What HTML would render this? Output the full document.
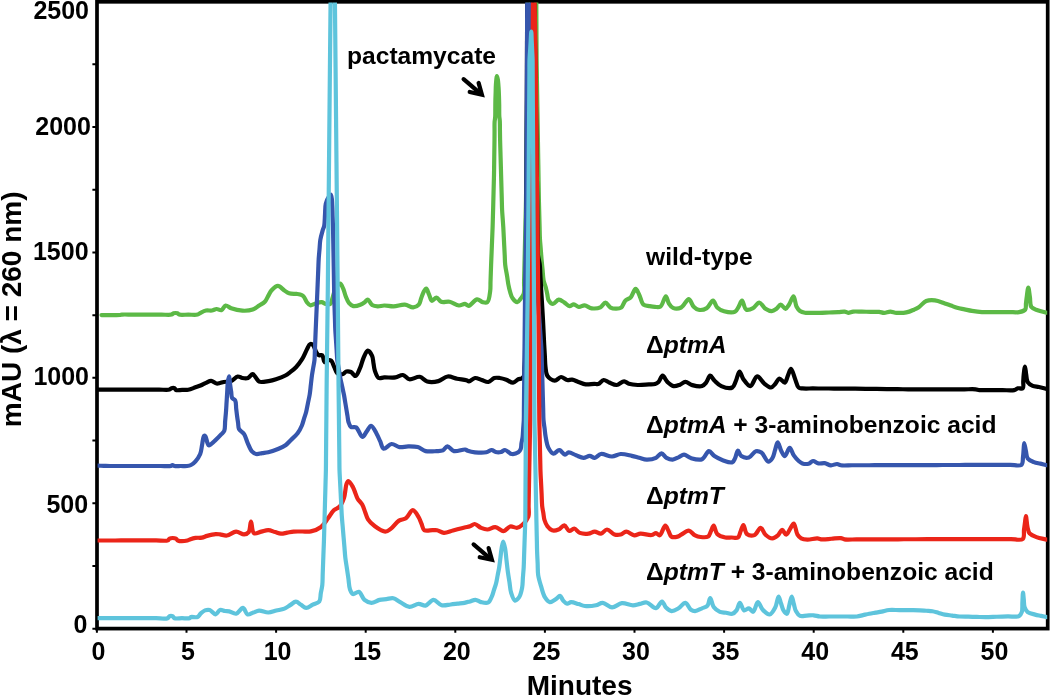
<!DOCTYPE html>
<html><head><meta charset="utf-8"><title>HPLC chromatogram</title><style>html,body{margin:0;padding:0;background:#fff;}svg{display:block;}</style></head><body>
<svg width="1050" height="696" viewBox="0 0 1050 696" font-family='"Liberation Sans", Arial, sans-serif' font-weight="bold">
<rect width="1050" height="696" fill="#fff"/>
<defs><clipPath id="pc"><rect x="97.6" y="2.6" width="949.6" height="624.5"/></clipPath></defs>
<path d="M92.4,628.70H96M92.4,565.99H96M92.4,503.28H96M92.4,440.56H96M92.4,377.85H96M92.4,315.14H96M92.4,252.43H96M92.4,189.71H96M92.4,127.00H96M92.4,64.29H96" stroke="#000" stroke-width="2" fill="none"/>
<path d="M96.90,629V632.8M186.50,629V632.8M276.10,629V632.8M365.70,629V632.8M455.30,629V632.8M544.90,629V632.8M634.50,629V632.8M724.10,629V632.8M813.70,629V632.8M903.30,629V632.8M992.90,629V632.8" stroke="#000" stroke-width="2" fill="none"/>
<rect x="97" y="1.8" width="950.7" height="626.8" fill="none" stroke="#000" stroke-width="3.7"/>
<text x="89.0" y="18.7" font-size="25" text-anchor="end">2500</text>
<text x="90.9" y="134.6" font-size="25" text-anchor="end">2000</text>
<text x="88.6" y="260.3" font-size="25" text-anchor="end">1500</text>
<text x="89.0" y="384.5" font-size="25" text-anchor="end">1000</text>
<text x="88.2" y="512.9" font-size="25" text-anchor="end">500</text>
<text x="87.4" y="633.4" font-size="25" text-anchor="end">0</text>
<text x="98.40" y="659.8" font-size="25" text-anchor="middle">0</text>
<text x="188.00" y="659.8" font-size="25" text-anchor="middle">5</text>
<text x="277.60" y="659.8" font-size="25" text-anchor="middle">10</text>
<text x="367.20" y="659.8" font-size="25" text-anchor="middle">15</text>
<text x="456.80" y="659.8" font-size="25" text-anchor="middle">20</text>
<text x="546.40" y="659.8" font-size="25" text-anchor="middle">25</text>
<text x="636.00" y="659.8" font-size="25" text-anchor="middle">30</text>
<text x="725.60" y="659.8" font-size="25" text-anchor="middle">35</text>
<text x="815.20" y="659.8" font-size="25" text-anchor="middle">40</text>
<text x="904.80" y="659.8" font-size="25" text-anchor="middle">45</text>
<text x="994.40" y="659.8" font-size="25" text-anchor="middle">50</text>
<text x="579.6" y="695.0" font-size="28" text-anchor="middle">Minutes</text>
<text transform="translate(20.9,427.2) rotate(-90)" x="0" y="0" font-size="28">mAU (λ = 260 nm)</text>
<g clip-path="url(#pc)" fill="none" stroke-width="4.20" stroke-linejoin="round" stroke-linecap="round">
<path stroke="#5cb946" d="M101.5,315.1C104.58,315.08 107.67,315.07 110.75,315.05C113.83,315.03 118.05,315.2 120,315C120.92,314.91 121.07,314.69 122,314.6C124.04,314.4 128.6,314.6 131.9,314.6C135.2,314.6 138.5,314.6 141.8,314.6C145.1,314.6 148.4,314.6 151.7,314.6C155,314.6 158.3,314.6 161.6,314.6C164.9,314.6 169.5,315.19 171.5,314.6C172.48,314.31 172.68,313.54 173.5,313.3C174.57,312.98 176.49,312.96 177.5,313.3C178.24,313.55 178.34,314.31 179.2,314.6C180.98,315.2 185.3,314.6 188.35,314.6C191.4,314.6 195.34,315.2 197.5,314.6C198.84,314.23 199.32,313.39 200.5,312.8C202.03,312.02 204.09,310.88 206,310.5C207.9,310.12 210.07,310.79 211.9,310.5C213.58,310.24 215.02,309.05 216.6,309C218.18,308.95 219.97,310.64 221.4,310.2C223.02,309.7 223.96,305.81 225.6,305.5C227.23,305.19 228.95,307.51 231.2,308.3C234.24,309.37 238.73,310.51 242.4,310.7C245.89,310.88 249.76,310.62 252.7,309.6C255.23,308.72 257.12,306.84 259.2,305.5C261.14,304.25 263.31,303.37 264.8,301.8C266.27,300.25 267,298.03 268.1,296.15C269.2,294.27 269.89,292.15 271.4,290.5C273.07,288.68 275.73,285.9 277.9,285.9C280.07,285.9 282.38,289.19 284.4,290.5C286.07,291.59 287.27,292.72 289.1,293.3C291.24,293.98 294.59,293.64 296.6,293.9C297.96,294.07 298.89,294.13 300,294.5C301.16,294.88 302.38,295.25 303.4,296.2C304.78,297.49 305.61,300.6 306.9,302.2C307.95,303.5 308.95,305.02 310.3,305.3C311.78,305.6 313.68,304.01 315.5,303.5C317.44,302.96 319.77,302.03 321.6,302.2C323.18,302.35 324.44,303.71 325.9,304C327.31,304.28 329.15,304.71 330.2,304C331.4,303.19 331.58,300.81 332.3,298.8C333.26,296.12 333.84,291.93 335.3,289.3C336.56,287.04 338.74,283.6 340.1,283.7C341.28,283.78 342.23,286.57 343.1,288.4C344.16,290.62 344.68,293.71 345.7,296.2C346.69,298.61 347.64,301.4 349.1,303.1C350.31,304.51 351.71,305.74 353.4,306.1C355.36,306.52 358.31,305.55 360.3,304.8C361.99,304.16 363.4,303.14 364.7,302.2C365.87,301.36 366.74,299.39 367.8,299.5C369.19,299.64 370.33,303.96 372.1,305.1C373.69,306.13 375.76,306.31 377.7,306.4C379.78,306.49 381.83,305.55 384.2,305.5C387.04,305.44 390.34,306.5 393.6,306.4C397.18,306.29 401.37,304.32 404.8,304.6C407.83,304.85 410.72,307.58 413.2,307.4C415.29,307.25 417.49,306.06 418.8,304.6C420.14,303.11 420.33,300.53 421.1,298.5C421.87,296.47 422.45,294.12 423.4,292.4C424.2,290.95 425.33,288.62 426.2,288.7C427.21,288.79 428.08,292.35 429,294.3C429.98,296.38 430.53,300.42 431.9,300.8C433.12,301.14 434.99,297.51 436.5,297.6C438.1,297.7 439.23,301.05 441.2,301.8C443.47,302.67 446.78,301.26 449.6,301.8C452.68,302.39 456.1,305.33 458.9,305.5C461.12,305.64 463.25,303.71 465,303.9C466.42,304.06 467.27,305.93 468.7,305.8C470.99,305.59 474.51,299.55 477.1,299.3C479.09,299.11 480.86,301.67 482.7,302.1C484.29,302.48 486.21,303.03 487.4,302.1C489.26,300.65 489.7,294.43 490.2,290.9C490.63,287.83 490.4,285.08 490.5,282.17C490.6,279.26 490.7,276.34 490.8,273.43C490.9,270.52 490.99,267.66 491.1,264.7C491.21,261.64 491.35,258.48 491.48,255.38C491.6,252.27 491.73,249.16 491.85,246.05C491.98,242.94 492.1,239.83 492.23,236.72C492.35,233.62 492.49,230.45 492.6,227.4C492.7,224.45 492.77,221.6 492.85,218.7C492.93,215.8 493.02,213.11 493.1,210C493.2,206.4 493.3,202.22 493.4,198.33C493.5,194.44 493.6,190.56 493.7,186.67C493.8,182.78 493.92,178.89 494,175C494.08,171.11 494.11,167.22 494.17,163.33C494.22,159.44 494.28,155.56 494.33,151.67C494.39,147.78 494.46,143.64 494.5,140C494.53,136.81 494.53,134 494.55,131C494.57,128 494.44,124.56 494.6,122C494.72,120.09 495.08,118.89 495.2,117C495.36,114.54 495.27,111.33 495.3,108.5C495.33,105.67 495.34,102.74 495.4,100C495.46,97.42 495.57,95 495.65,92.5C495.73,90 495.71,87.6 495.9,85C496.11,82.18 496.47,76.23 496.9,76.2C497.16,76.18 497.55,78.13 497.8,79.5C498.19,81.66 498.4,85.12 498.6,88C498.8,90.95 498.9,94.09 499,97C499.1,99.74 499.15,102.12 499.2,105C499.26,108.38 499.14,113.05 499.3,116C499.41,117.99 499.69,119.07 499.8,121C499.95,123.66 499.9,127.33 499.95,130.5C500,133.67 500.03,136.67 500.1,140C500.18,143.69 500.32,147.78 500.43,151.67C500.54,155.56 500.66,159.44 500.77,163.33C500.88,167.22 500.99,171.11 501.1,175C501.21,178.89 501.32,182.78 501.43,186.67C501.54,190.56 501.66,194.44 501.77,198.33C501.88,202.22 501.92,206.4 502.1,210C502.25,213.11 502.5,215.8 502.7,218.7C502.9,221.6 503.12,224.45 503.3,227.4C503.48,230.45 503.62,233.62 503.77,236.72C503.93,239.83 504.09,242.94 504.25,246.05C504.41,249.16 504.57,252.27 504.73,255.38C504.88,258.48 504.85,261.46 505.2,264.7C505.58,268.27 506.43,272.17 507.05,275.9C507.67,279.63 507.99,283.4 508.9,287.1C509.83,290.87 510.81,295.71 512.6,298.3C513.88,300.15 515.86,302.19 517.3,302.1C518.65,302.02 519.92,299.69 521,298.3C522.09,296.9 523.22,295.68 523.8,293.7C524.66,290.77 523.98,285.89 524.07,281.99C524.17,278.08 524.26,274.18 524.35,270.27C524.44,266.37 524.53,262.47 524.62,258.56C524.72,254.66 524.81,250.75 524.9,246.85C524.99,242.95 525.08,239.04 525.17,235.14C525.27,231.23 525.36,227.33 525.45,223.43C525.54,219.52 525.63,215.62 525.73,211.71C525.82,207.81 525.93,203.9 526,200C526.07,196.11 526.08,192.22 526.12,188.33C526.17,184.44 526.21,180.56 526.25,176.67C526.29,172.78 526.33,168.89 526.38,165C526.42,161.11 526.46,157.22 526.5,153.33C526.54,149.44 526.58,145.56 526.62,141.67C526.67,137.78 526.71,133.89 526.75,130C526.79,126.11 526.83,122.22 526.88,118.33C526.92,114.44 526.96,110.56 527,106.67C527.04,102.78 527.08,98.89 527.12,95C527.17,91.11 527.21,87.22 527.25,83.33C527.29,79.44 527.33,75.56 527.38,71.67C527.42,67.78 527.46,63.74 527.5,60C527.53,56.54 527.56,53.33 527.58,50C527.61,46.67 527.64,43.33 527.67,40C527.69,36.67 527.72,33.33 527.75,30C527.78,26.67 527.81,23.33 527.83,20C527.86,16.67 527.89,13.33 527.92,10C527.94,6.67 527.98,3.42 528,0C528.02,-3.61 528.04,-7.41 528.06,-11.11C528.07,-14.81 528.09,-18.52 528.11,-22.22C528.13,-25.93 528.15,-29.63 528.17,-33.33C528.19,-37.04 528.2,-40.74 528.22,-44.44C528.24,-48.15 528.26,-51.85 528.28,-55.56C528.3,-59.26 528.31,-62.96 528.33,-66.67C528.35,-70.37 528.37,-74.07 528.39,-77.78C528.41,-81.48 528.43,-85.19 528.44,-88.89C528.46,-92.59 526.89,-98.39 528.5,-100C529.73,-101.23 533.75,-101.24 535,-100C536.66,-98.36 535.09,-92.38 535.13,-88.57C535.17,-84.76 535.21,-80.95 535.26,-77.14C535.3,-73.33 535.34,-69.52 535.39,-65.71C535.43,-61.9 535.47,-58.1 535.51,-54.29C535.56,-50.48 535.6,-46.67 535.64,-42.86C535.69,-39.05 535.73,-35.24 535.77,-31.43C535.81,-27.62 535.85,-23.82 535.9,-20C535.95,-16.17 536.03,-12.33 536.1,-8.5C536.17,-4.67 536.26,-0.83 536.3,3C536.34,6.81 536.34,10.6 536.36,14.4C536.38,18.2 536.4,22 536.42,25.8C536.44,29.6 536.46,33.4 536.48,37.2C536.5,41 536.52,44.8 536.54,48.6C536.56,52.4 536.56,56.18 536.6,60C536.64,63.87 536.73,67.78 536.79,71.67C536.86,75.56 536.92,79.44 536.98,83.33C537.05,87.22 537.11,91.11 537.17,95C537.24,98.89 537.3,102.78 537.37,106.67C537.43,110.56 537.49,114.44 537.56,118.33C537.62,122.22 537.69,126.11 537.75,130C537.81,133.89 537.88,137.78 537.94,141.67C538.01,145.56 538.07,149.44 538.13,153.33C538.2,157.22 538.26,161.11 538.33,165C538.39,168.89 538.45,172.78 538.52,176.67C538.58,180.56 538.64,184.44 538.71,188.33C538.77,192.22 538.82,196.31 538.9,200C538.97,203.33 539.07,206.33 539.15,209.5C539.23,212.67 539.32,215.83 539.4,219C539.48,222.17 539.57,225.33 539.65,228.5C539.73,231.67 539.73,234.77 539.9,238C540.07,241.38 540.43,244.9 540.7,248.35C540.97,251.8 541.2,255.21 541.5,258.7C541.81,262.26 542.2,265.9 542.55,269.5C542.9,273.1 542.96,277.09 543.6,280.3C544.13,282.97 545.18,285.15 545.8,287.5C546.38,289.7 546.77,291.8 547.25,293.95C547.73,296.1 547.66,298.69 548.7,300.4C549.66,301.97 551.45,303.96 553,304C554.75,304.04 556.73,299.88 558.7,299.7C560.57,299.53 562.68,301.51 564.5,302.6C566.27,303.65 567.84,305.91 569.5,306.1C570.94,306.27 572.32,304.34 573.8,304.4C575.44,304.47 577.12,306.72 578.9,306.9C580.72,307.08 582.61,305.27 584.6,305.4C586.88,305.54 589.25,307.96 591.8,308.3C594.5,308.66 598.06,308.39 600.4,307.3C602.48,306.33 603.73,302.58 605.4,302.6C607.1,302.62 608.59,306.6 610.5,307.6C612.23,308.51 614.36,308.72 616.2,308.7C617.92,308.68 619.77,308.63 621.2,307.6C623.03,306.28 623.74,302.12 625.5,300.4C626.97,298.96 629.08,299 630.6,297.5C632.58,295.54 634.05,288.92 635.6,288.9C636.88,288.88 638.03,292.45 639.2,294.7C640.68,297.54 641.39,302.92 643.5,304.7C645.06,306.02 647.37,305.73 649.3,306.1C651.2,306.46 653.11,306.84 655,306.9C656.85,306.96 658.91,307.54 660.5,306.5C662.78,305.01 664.33,296.35 665.8,296.4C666.99,296.44 667.52,301.32 668.8,303.3C669.97,305.1 671.14,307.13 673,307.9C675.13,308.78 678.73,308.66 681.2,307.5C684.09,306.14 686.64,299.02 688.8,299.2C690.73,299.36 691.85,304.98 693.7,306.8C695.16,308.24 696.6,309.46 698.5,309.8C700.82,310.22 704.44,309.52 706.8,308.1C709.33,306.58 711.21,300.47 713,300.6C714.63,300.72 715.33,305.73 717.2,307.5C719.04,309.24 721.44,310.48 724.1,311.2C727.26,312.05 732.63,312.8 735.1,311.6C736.91,310.72 737.49,308.54 738.6,306.8C739.81,304.9 740.84,300.56 742,300.6C743.37,300.64 744.09,308.44 746.2,309.5C747.99,310.4 750.99,309.15 753.1,308.1C755.39,306.96 757.26,302.54 759.3,302.6C761.4,302.66 763.27,307.35 765.5,308.8C767.44,310.07 769.78,311.29 771.7,311.2C773.42,311.12 775.03,309.85 776.5,308.8C778.04,307.7 779.23,304.75 780.7,304.7C782.22,304.65 784.08,308.91 785.5,308.8C786.82,308.7 787.85,306.38 789,304.7C790.53,302.48 792.26,296.27 793.5,296.4C794.83,296.54 795.23,304.2 796.6,306.8C797.57,308.63 798.6,310 800,311C801.38,311.98 803.06,312.47 804.9,312.8C807.09,313.19 809.87,312.8 812.35,312.8C814.83,312.8 817.18,312.84 819.8,312.8C822.72,312.75 825.97,312.6 829.05,312.5C832.13,312.4 835.53,312.38 838.3,312.2C840.58,312.05 842.72,311.41 844.5,311.6C845.91,311.75 846.87,312.75 848.2,312.8C849.73,312.86 851.29,311.81 853.2,311.6C855.68,311.32 858.98,311.67 861.87,311.7C864.76,311.73 867.64,311.77 870.53,311.8C873.42,311.83 876.73,311.66 879.2,311.9C881.07,312.08 882.37,312.81 884.1,312.8C886.05,312.79 888.23,311.6 890.3,311.6C892.37,311.6 894.18,312.62 896.5,312.8C899.4,313.02 903.37,312.99 906.4,312.4C909.12,311.87 911.69,310.66 913.9,309.7C915.73,308.91 917.07,308.35 918.8,307.2C921.09,305.68 923.43,302.13 926.2,301C928.83,299.92 931.94,299.97 934.9,300.3C938.13,300.66 941.9,302.43 944.8,303.4C947.1,304.17 948.9,304.87 950.95,305.6C953,306.33 954.93,307.19 957.1,307.8C959.44,308.46 962.07,308.83 964.55,309.35C967.03,309.87 969.33,310.46 972,310.9C975.06,311.4 978.65,311.9 981.9,312.1C985.04,312.29 988.08,312.1 991.17,312.1C994.27,312.1 997.36,312.1 1000.45,312.1C1003.54,312.1 1006.63,312.1 1009.73,312.1C1012.82,312.1 1016.26,312.63 1019,312.1C1021.32,311.65 1024.05,311.1 1025.2,309.6C1026.31,308.15 1025.7,305.47 1025.95,303.4C1026.2,301.33 1026.37,299.49 1026.7,297.2C1027.11,294.32 1027.77,287.5 1028.3,287.5C1028.83,287.5 1029.39,293.95 1029.9,297.2C1030.42,300.48 1029.82,304.92 1031.4,307.1C1032.72,308.91 1035.27,309.32 1037.6,310.2C1040.36,311.25 1043.87,311.87 1047,312.7"/>
<path stroke="#000000" d="M97.5,389.6C100.93,389.6 104.36,389.6 107.79,389.6C111.21,389.6 114.64,389.6 118.07,389.6C121.5,389.6 124.93,389.6 128.36,389.6C131.79,389.6 135.21,389.6 138.64,389.6C142.07,389.6 145.5,389.6 148.93,389.6C152.36,389.6 155.79,389.6 159.21,389.6C162.64,389.6 167.46,390.24 169.5,389.6C170.5,389.29 170.72,388.45 171.5,388.2C172.36,387.93 173.73,387.84 174.5,388.2C175.18,388.52 175.21,389.64 176,390C177.28,390.58 180.07,389.93 182.1,389.9C184.13,389.87 186.11,390.17 188.2,389.8C190.56,389.39 193.3,388.07 195.5,387.3C197.33,386.66 198.81,386.21 200.5,385.5C202.31,384.73 204.18,383.6 206,382.8C207.72,382.04 209.38,380.73 211.1,380.8C212.92,380.88 214.95,383.24 216.6,383.5C217.84,383.69 218.85,383.24 220,383C221.21,382.75 222.24,382.28 223.7,382C225.75,381.6 228.89,381.99 231.2,381.1C233.57,380.19 235.63,376.82 237.7,376.5C239.33,376.25 240.74,377.74 242.4,378C244.16,378.27 246.31,378.6 248,378C249.76,377.38 251.27,374.09 252.7,374.2C254.06,374.31 255.27,376.98 256.4,378.3C257.41,379.47 257.78,381.08 259.2,381.7C261.28,382.6 265.67,381.55 268.6,381.1C271.23,380.7 273.42,380.13 276,379.3C278.98,378.34 282.88,376.86 285.4,375.5C287.27,374.49 288.4,373.53 290,372.3C291.9,370.84 294.09,369.21 296,367.2C298.15,364.93 300.29,362.12 302.1,359.2C304.02,356.11 305.59,351.86 307.1,349.1C308.18,347.12 308.89,344.55 310.1,344.1C310.99,343.77 312.23,344.31 313.1,345.1C314.45,346.33 315.1,350.29 316.2,352.1C317,353.41 317.65,354.7 318.7,355.2C319.68,355.67 321.28,354.55 322.2,355.2C323.55,356.15 323.43,361.73 324.7,362.2C325.63,362.54 327.04,360.41 328.2,360.2C329.21,360.02 330.33,360.04 331.2,360.7C332.54,361.71 333.27,365.07 334.3,367.2C335.3,369.27 335.8,372.15 337.3,373.3C338.6,374.3 340.79,374.62 342.3,374.3C343.78,373.99 344.84,371.88 346.3,371.5C347.74,371.13 349.54,371.36 351,372C352.64,372.73 354.12,376.22 355.5,376C357.18,375.73 358.71,371.04 360,368.2C361.41,365.09 362.09,361.05 363.5,358C364.75,355.29 366.28,350.82 367.8,350.7C369.16,350.59 371.15,353.87 372.1,355.9C373.11,358.06 373.03,360.9 373.5,363.4C373.97,365.9 374.07,368.49 374.9,370.9C375.75,373.36 376.83,377.05 378.6,378C380.09,378.8 382.01,377.52 384.2,377.4C387.29,377.23 392.08,377.92 395.4,377.4C398.19,376.96 400.56,374.68 402.9,375C405.23,375.32 406.87,378.86 409.4,379.3C412.35,379.82 416.63,376.3 419.7,376.8C422.5,377.25 424.32,380.73 427.2,381.5C430.45,382.37 434.93,381.98 438.4,381.1C441.74,380.26 444.52,376.87 447.7,376.5C450.76,376.15 453.96,378.08 457.1,378.7C460.2,379.31 464.28,379.59 466.4,380.2C467.56,380.53 467.97,381.35 469,381.3C470.6,381.22 472.9,378.22 475,378C477.13,377.77 479.48,379.33 481.7,380C483.91,380.66 486.22,382.31 488.3,382C490.43,381.69 492.26,378.62 494.3,378C496.07,377.46 497.83,377.76 499.7,378C501.81,378.27 504.12,378.94 506.3,379.7C508.56,380.49 510.94,382.85 513,382.7C514.91,382.56 516.7,379.99 518.3,379.3C519.46,378.8 520.57,379.04 521.5,378.5C522.45,377.95 523.37,377.2 523.9,376C524.7,374.18 524.23,370.67 524.4,368C524.57,365.33 524.79,362.82 524.9,360C525.02,356.85 525.01,353.33 525.07,350C525.12,346.67 525.18,343.33 525.23,340C525.29,336.67 525.34,333.33 525.4,330C525.46,326.67 525.51,323.33 525.57,320C525.62,316.67 525.68,313.33 525.73,310C525.79,306.67 525.86,303.47 525.9,300C525.94,296.24 525.94,292.16 525.95,288.24C525.97,284.31 525.99,280.39 526.01,276.47C526.02,272.55 526.04,268.63 526.06,264.71C526.08,260.78 526.09,256.86 526.11,252.94C526.13,249.02 526.15,245.1 526.16,241.18C526.18,237.25 526.2,233.33 526.22,229.41C526.24,225.49 526.25,221.57 526.27,217.65C526.29,213.73 526.31,209.8 526.32,205.88C526.34,201.96 526.36,198.04 526.38,194.12C526.39,190.2 526.41,186.27 526.43,182.35C526.45,178.43 526.46,174.51 526.48,170.59C526.5,166.67 526.52,162.75 526.54,158.82C526.55,154.9 526.57,150.98 526.59,147.06C526.61,143.14 526.62,139.22 526.64,135.29C526.66,131.37 526.68,127.45 526.69,123.53C526.71,119.61 526.73,115.69 526.75,111.76C526.76,107.84 526.78,103.87 526.8,100C526.82,96.24 526.83,92.59 526.84,88.89C526.86,85.19 526.87,81.48 526.89,77.78C526.9,74.07 526.92,70.37 526.93,66.67C526.95,62.96 526.96,59.26 526.98,55.56C526.99,51.85 527.01,48.15 527.02,44.44C527.04,40.74 527.05,37.04 527.07,33.33C527.08,29.63 527.1,25.93 527.11,22.22C527.13,18.52 527.14,14.81 527.16,11.11C527.17,7.41 527.19,3.7 527.2,0C527.21,-3.7 527.23,-7.41 527.24,-11.11C527.26,-14.81 527.27,-18.52 527.29,-22.22C527.3,-25.93 527.32,-29.63 527.33,-33.33C527.35,-37.04 527.36,-40.74 527.38,-44.44C527.39,-48.15 527.41,-51.85 527.42,-55.56C527.44,-59.26 527.45,-62.96 527.47,-66.67C527.48,-70.37 527.5,-74.07 527.51,-77.78C527.53,-81.48 527.54,-85.19 527.56,-88.89C527.57,-92.59 526.12,-98.52 527.6,-100C528.59,-100.98 531.5,-100.99 532.5,-100C534.03,-98.49 532.62,-92.38 532.69,-88.57C532.75,-84.76 532.81,-80.95 532.87,-77.14C532.93,-73.33 533,-69.52 533.06,-65.71C533.12,-61.9 533.18,-58.1 533.24,-54.29C533.3,-50.48 533.37,-46.67 533.43,-42.86C533.49,-39.05 533.55,-35.24 533.61,-31.43C533.68,-27.62 533.73,-23.82 533.8,-20C533.87,-16.17 533.97,-12.33 534.05,-8.5C534.13,-4.67 534.22,-0.83 534.3,3C534.37,6.81 534.43,10.6 534.5,14.4C534.57,18.2 534.63,22 534.7,25.8C534.77,29.6 534.83,33.4 534.9,37.2C534.97,41 535.03,44.8 535.1,48.6C535.17,52.4 535.24,56.18 535.3,60C535.36,63.87 535.41,67.78 535.46,71.67C535.51,75.56 535.56,79.44 535.62,83.33C535.67,87.22 535.72,91.11 535.77,95C535.83,98.89 535.88,102.78 535.93,106.67C535.99,110.56 536.04,114.44 536.09,118.33C536.14,122.22 536.2,126.11 536.25,130C536.3,133.89 536.36,137.78 536.41,141.67C536.46,145.56 536.51,149.44 536.57,153.33C536.62,157.22 536.67,161.11 536.73,165C536.78,168.89 536.83,172.78 536.88,176.67C536.94,180.56 536.99,184.44 537.04,188.33C537.09,192.22 537.15,196.19 537.2,200C537.25,203.67 537.28,207.2 537.32,210.8C537.36,214.4 537.4,218 537.44,221.6C537.48,225.2 537.52,228.8 537.56,232.4C537.6,236 537.64,239.6 537.68,243.2C537.72,246.8 537.46,250.4 537.8,254C538.15,257.66 539.39,261.58 539.8,265C540.15,267.96 540.11,270.56 540.27,273.33C540.42,276.11 540.58,278.89 540.73,281.67C540.89,284.44 541.03,287.1 541.2,290C541.38,293.18 541.6,296.67 541.8,300C542,303.33 542.2,306.67 542.4,310C542.6,313.33 542.83,316.82 543,320C543.16,322.89 543.27,325.51 543.4,328.27C543.53,331.02 543.67,333.78 543.8,336.53C543.93,339.29 544.04,341.84 544.2,344.8C544.38,348.23 544.63,352.2 544.85,355.9C545.07,359.6 545.04,363.54 545.5,367C545.91,370.09 545.76,373.42 547.3,375.7C548.85,378 552.4,380.64 554.8,380.7C556.95,380.75 558.92,377.08 561,377C563.02,376.92 565.12,379.6 567.1,380C568.8,380.34 570.37,379.46 572.1,379.7C574.08,379.98 576.14,381.15 578.3,381.9C580.65,382.72 583.1,384.06 585.7,384.4C588.45,384.76 592.11,383.79 594.4,383.8C595.89,383.81 596.81,384.46 598.1,384.1C599.86,383.6 601.78,380.2 603.7,380C605.49,379.82 607.2,381.72 609.2,382.5C611.49,383.4 614.24,385.17 616.7,385C619.21,384.82 621.89,381.29 624.1,381.3C625.9,381.31 627.07,383.19 629,383.8C631.43,384.56 634.61,384.87 637.7,385C641.19,385.15 645.73,384.59 648.9,384.4C651.24,384.26 653.3,384.53 655,384C656.39,383.57 657.4,382.95 658.5,381.9C659.99,380.48 661.14,375.75 662.6,375.7C664.1,375.64 665.54,380.15 667.4,381.9C669.22,383.61 671.43,385.69 673.6,386.1C675.61,386.48 677.91,385.41 679.9,384.7C681.84,384 683.45,381.94 685.4,381.9C687.56,381.86 689.74,384.4 692.3,385.1C695.2,385.9 699.57,386.86 702,386.1C703.81,385.54 704.84,384.09 706.1,382.6C707.63,380.78 708.73,375.83 710.2,375.7C711.52,375.59 712.74,379 714.4,380.6C716.34,382.47 718.54,384.93 721.3,386.1C724.39,387.41 729.86,388.73 732.3,387.5C734.27,386.51 734.69,383.56 735.8,381.2C737.12,378.38 738.17,371.67 739.5,371.6C740.72,371.54 741.69,376.85 743.4,379.2C745.23,381.71 748.1,386.28 750.3,386.1C752.73,385.9 754.77,376.6 757.2,376.4C759.4,376.22 761.68,381.4 764.1,383.3C766.3,385.03 769.03,387.65 771,387.5C772.62,387.38 773.88,385.39 775.2,384C776.67,382.44 777.7,378.73 779.3,378.5C780.9,378.27 783.38,382.97 784.8,382.6C786.29,382.21 786.87,378 787.9,375.7C788.93,373.4 789.91,368.78 791,368.8C792.32,368.83 793.87,375.93 795.2,379.2C796.39,382.12 796.99,386.13 798.6,387.5C799.66,388.41 800.8,388.21 802.4,388.4C805.02,388.71 809.42,388.43 812.92,388.45C816.43,388.47 819.94,388.48 823.45,388.5C826.96,388.52 830.47,388.53 833.98,388.55C837.48,388.57 840.98,388.57 844.5,388.6C848.03,388.63 851.58,388.68 855.11,388.71C858.65,388.75 862.19,388.79 865.73,388.83C869.27,388.87 872.8,388.9 876.34,388.94C879.88,388.98 883.42,389.02 886.96,389.06C890.5,389.1 894.03,389.13 897.57,389.17C901.11,389.21 904.65,389.25 908.19,389.29C911.72,389.32 915.2,389.38 918.8,389.4C922.53,389.42 926.39,389.39 930.18,389.38C933.97,389.37 937.77,389.37 941.56,389.36C945.35,389.35 949.15,389.35 952.94,389.34C956.73,389.33 960.53,389.33 964.32,389.32C968.11,389.31 972.96,389.01 975.7,389.3C977.28,389.47 977.81,389.93 979.4,390.1C982.17,390.4 987.11,390.1 990.97,390.1C994.82,390.1 998.68,390.1 1002.53,390.1C1006.39,390.1 1011.36,390.73 1014.1,390.1C1015.73,389.72 1016.43,388.61 1017.8,388.3C1019.31,387.95 1021.84,389.2 1022.8,388.3C1023.92,387.25 1023.1,383.77 1023.25,381.5C1023.4,379.23 1023.43,377.07 1023.7,374.7C1023.99,372.09 1024.58,366.5 1025,366.5C1025.42,366.5 1025.74,372.04 1026.2,374.7C1026.64,377.24 1026.5,380.21 1027.7,382.1C1028.79,383.81 1030.84,384.98 1032.7,385.8C1034.57,386.62 1036.7,386.53 1038.9,387C1041.42,387.54 1044.3,388.27 1047,388.9"/>
<path stroke="#3656ad" d="M97.5,465.7C99.58,465.75 101.67,465.8 103.75,465.85C105.83,465.9 107.67,465.97 110,466C112.97,466.04 116.76,466 120.13,466C123.51,466 126.89,466 130.27,466C133.64,466 137.02,466 140.4,466C143.78,466 147.16,466 150.53,466C153.91,466 157.29,466 160.67,466C164.04,466 168.87,466.52 170.8,466C171.65,465.77 171.9,465.02 172.5,465C173.13,464.98 173.62,465.79 174.5,466C175.99,466.35 178.7,466 180.8,466C182.9,466 185.26,466.23 187.1,466C188.57,465.81 189.72,465.65 191,465C192.53,464.22 194.1,462.88 195.5,461.3C197.21,459.38 199.1,456.68 200.2,454C201.34,451.23 201.47,447.93 202.1,444.9C202.73,441.87 202.98,436.31 204,435.8C204.43,435.58 205.02,435.97 205.5,436.5C206.65,437.76 206.99,444.79 208.7,445.3C210.26,445.77 212.95,442.37 215,440.6C217.2,438.7 219.72,436.05 221.4,434.2C222.59,432.89 223.65,432.28 224.3,430.7C225.24,428.41 224.87,424.37 225.15,421.2C225.43,418.03 225.76,414.89 226,411.7C226.24,408.47 226.4,405.19 226.6,401.93C226.8,398.68 227,395.42 227.2,392.17C227.4,388.91 227.43,385.25 227.8,382.4C228.09,380.15 228.62,376.39 229,376.4C229.47,376.41 229.9,383.1 230.3,385.9C230.62,388.13 230.9,389.9 231.2,391.9C231.5,393.9 231.27,396.42 232.1,397.9C232.78,399.11 234.5,399.2 235.2,400.5C236.21,402.35 235.87,405.97 236.2,408.7C236.53,411.43 236.86,414.38 237.2,416.9C237.49,419.07 237.8,420.93 238.1,422.95C238.4,424.97 238.09,427.2 239,429C239.98,430.96 242.72,432.01 244.1,434.1C245.68,436.49 246.31,439.93 247.6,442.8C248.91,445.7 250.15,449.5 251.9,451.4C253.17,452.77 254.58,453.67 256.2,454C257.99,454.36 260.23,453.4 262.25,453.1C264.27,452.8 266.04,452.74 268.3,452.2C271.31,451.49 275.55,450.07 278.6,448.8C281.17,447.73 283.46,446.76 285.5,445.3C287.48,443.88 288.85,442.03 290.7,440.2C292.84,438.08 295.71,435.82 297.6,433.3C299.41,430.9 300.8,428.08 301.9,425.5C302.89,423.18 303.33,420.9 304.05,418.6C304.77,416.3 305.57,414.14 306.2,411.7C306.89,409.01 307.37,405.97 307.95,403.1C308.53,400.23 309.22,397.47 309.7,394.5C310.2,391.36 310.47,388 310.85,384.75C311.23,381.5 311.57,378.03 312,375C312.38,372.33 312.83,370 313.25,367.5C313.67,365 314.22,362.69 314.5,360C314.82,356.92 314.77,353.33 314.9,350C315.03,346.67 315.17,343.33 315.3,340C315.43,336.67 315.56,333.33 315.7,330C315.84,326.67 315.99,323.33 316.13,320C316.28,316.67 316.42,313.33 316.57,310C316.71,306.67 316.86,303.35 317,300C317.14,296.6 317.28,293.17 317.43,289.75C317.57,286.33 317.71,282.92 317.85,279.5C317.99,276.08 318.13,272.67 318.27,269.25C318.42,265.83 318.49,262.35 318.7,259C318.9,255.77 319.23,252.67 319.5,249.5C319.77,246.33 319.79,243.14 320.3,240C320.82,236.84 321.85,233.2 322.6,230.6C323.14,228.72 323.81,227.76 324.2,225.8C324.78,222.9 324.73,218.43 325,214.75C325.27,211.07 324.99,206.93 325.8,203.7C326.48,200.98 327.9,198.06 329,196.5C329.65,195.57 330.48,194.41 331,194.6C332.05,194.98 332.03,202.27 332.3,206C332.56,209.57 332.53,213 332.65,216.5C332.77,220 332.91,223.46 333,227C333.09,230.62 333.13,234.33 333.2,238C333.27,241.67 333.33,245.33 333.4,249C333.47,252.67 333.54,256.42 333.6,260C333.66,263.41 333.72,266.67 333.78,270C333.83,273.33 333.89,276.67 333.95,280C334.01,283.33 334.07,286.67 334.12,290C334.18,293.33 334.22,296.67 334.3,300C334.38,303.33 334.52,306.67 334.63,310C334.74,313.33 334.86,316.67 334.97,320C335.08,323.33 335.13,326.67 335.3,330C335.47,333.33 335.74,336.67 335.97,340C336.19,343.33 336.41,346.67 336.63,350C336.86,353.33 336.92,356.76 337.3,360C337.66,363.09 338.3,366 338.8,369C339.3,372 339.73,375.05 340.3,378C340.85,380.88 341.53,383.67 342.15,386.5C342.77,389.33 343.47,392.25 344,395C344.49,397.57 344.83,400 345.25,402.5C345.67,405 346.11,407.64 346.5,410C346.85,412.11 347.17,414 347.5,416C347.83,418 347.89,420.13 348.5,422C349.08,423.79 349.68,426.11 351,427C352.26,427.85 354.52,426.47 356.1,427.4C358.46,428.79 360.44,436.82 362.4,436.9C363.94,436.96 365.3,433.2 366.75,431.35C368.2,429.5 369.6,425.76 371.1,425.8C372.86,425.85 375.06,431.04 376.6,433.7C378.03,436.17 378.97,438.7 380.15,441.2C381.33,443.7 381.87,448.14 383.7,448.7C385.62,449.29 388.91,444.22 391.6,444C394.18,443.79 396.75,446.69 399.5,447.1C402.28,447.51 405.24,446.41 408.2,446.4C411.3,446.39 414.76,446.28 417.7,447.1C420.54,447.89 422.66,450.4 425.6,451.1C428.88,451.88 433.45,451.3 436.6,451.1C439,450.95 441.08,451.11 442.9,450.3C444.66,449.51 445.72,446.48 447.4,446.4C449.36,446.31 451.37,450.46 454,451.1C457.1,451.85 462.72,449.15 465.1,449.5C466.3,449.68 466.59,450.33 467.7,450.7C469.5,451.3 472.28,452.01 475,452.3C478.34,452.66 483.27,452.92 486.3,452.3C488.48,451.85 490.05,449.95 491.7,450C493.14,450.04 494.23,451.65 495.7,452C497.3,452.38 499.4,452.38 501,452C502.47,451.65 503.51,449.94 505,450C506.96,450.07 509.4,453.67 511.7,454C513.85,454.31 516.76,453.35 518.3,452.3C519.49,451.49 520.16,450.34 520.7,449C521.36,447.36 521.18,444.98 521.5,443C521.82,441.05 522.32,439.33 522.6,437.2C522.93,434.62 523,431.47 523.2,428.6C523.4,425.73 523.68,423.04 523.8,420C523.94,416.58 523.87,412.73 523.91,409.09C523.95,405.45 523.98,401.82 524.02,398.18C524.05,394.55 524.09,390.91 524.13,387.27C524.16,383.64 524.2,380 524.24,376.36C524.27,372.73 524.31,369.09 524.35,365.45C524.38,361.82 524.42,358.18 524.45,354.55C524.49,350.91 524.53,347.27 524.56,343.64C524.6,340 524.64,336.36 524.67,332.73C524.71,329.09 524.75,325.45 524.78,321.82C524.82,318.18 524.85,314.55 524.89,310.91C524.93,307.27 524.96,303.65 525,300C525.04,296.31 525.1,292.59 525.14,288.89C525.19,285.19 525.24,281.48 525.29,277.78C525.34,274.07 525.39,270.37 525.43,266.67C525.48,262.96 525.53,259.26 525.58,255.56C525.63,251.85 525.67,248.15 525.72,244.44C525.77,240.74 525.82,237.04 525.87,233.33C525.91,229.63 525.96,225.93 526.01,222.22C526.06,218.52 526.11,214.81 526.16,211.11C526.2,207.41 526.27,203.75 526.3,200C526.33,196.16 526.34,192.22 526.36,188.33C526.38,184.44 526.4,180.56 526.42,176.67C526.44,172.78 526.46,168.89 526.47,165C526.49,161.11 526.51,157.22 526.53,153.33C526.55,149.44 526.57,145.56 526.59,141.67C526.61,137.78 526.63,133.89 526.65,130C526.67,126.11 526.69,122.22 526.71,118.33C526.73,114.44 526.75,110.56 526.77,106.67C526.79,102.78 526.81,98.89 526.83,95C526.84,91.11 526.86,87.22 526.88,83.33C526.9,79.44 526.92,75.56 526.94,71.67C526.96,67.78 526.98,63.74 527,60C527.01,56.54 527.02,53.33 527.03,50C527.04,46.67 527.06,43.33 527.07,40C527.08,36.67 527.09,33.33 527.1,30C527.11,26.67 527.12,23.33 527.13,20C527.14,16.67 527.16,13.33 527.17,10C527.18,6.67 527.19,3.42 527.2,0C527.21,-3.61 527.23,-7.41 527.24,-11.11C527.26,-14.81 527.27,-18.52 527.29,-22.22C527.3,-25.93 527.32,-29.63 527.33,-33.33C527.35,-37.04 527.36,-40.74 527.38,-44.44C527.39,-48.15 527.41,-51.85 527.42,-55.56C527.44,-59.26 527.45,-62.96 527.47,-66.67C527.48,-70.37 527.5,-74.07 527.51,-77.78C527.53,-81.48 527.54,-85.19 527.56,-88.89C527.57,-92.59 526.68,-99.08 527.6,-100C527.9,-100.3 528.5,-100.3 528.8,-100C529.72,-99.08 528.83,-92.59 528.84,-88.89C528.86,-85.19 528.87,-81.48 528.89,-77.78C528.9,-74.07 528.92,-70.37 528.93,-66.67C528.95,-62.96 528.96,-59.26 528.98,-55.56C528.99,-51.85 529.01,-48.15 529.02,-44.44C529.04,-40.74 529.05,-37.04 529.07,-33.33C529.08,-29.63 529.1,-25.93 529.11,-22.22C529.13,-18.52 529.14,-14.81 529.16,-11.11C529.17,-7.41 529.18,-3.61 529.2,0C529.22,3.42 529.24,6.67 529.27,10C529.29,13.33 529.31,16.67 529.33,20C529.36,23.33 529.38,26.67 529.4,30C529.42,33.33 529.44,36.67 529.47,40C529.49,43.33 529.51,46.67 529.53,50C529.56,53.33 529.56,56.54 529.6,60C529.64,63.74 529.73,67.78 529.8,71.67C529.87,75.56 529.93,79.44 530,83.33C530.07,87.22 530.13,91.11 530.2,95C530.27,98.89 530.33,102.78 530.4,106.67C530.47,110.56 530.53,114.44 530.6,118.33C530.67,122.22 530.73,126.11 530.8,130C530.87,133.89 530.93,137.78 531,141.67C531.07,145.56 531.13,149.44 531.2,153.33C531.27,157.22 531.33,161.11 531.4,165C531.47,168.89 531.53,172.78 531.6,176.67C531.67,180.56 531.73,184.44 531.8,188.33C531.87,192.22 531.85,196.16 532,200C532.14,203.75 532.44,207.41 532.67,211.11C532.89,214.81 533.11,218.52 533.33,222.22C533.56,225.93 533.78,229.63 534,233.33C534.22,237.04 534.44,240.74 534.67,244.44C534.89,248.15 535.11,251.85 535.33,255.56C535.56,259.26 535.78,262.96 536,266.67C536.22,270.37 536.44,274.07 536.67,277.78C536.89,281.48 537.11,285.19 537.33,288.89C537.56,292.59 537.77,296.39 538,300C538.22,303.42 538.47,306.67 538.7,310C538.93,313.33 539.17,316.67 539.4,320C539.63,323.33 539.87,326.67 540.1,330C540.33,333.33 540.57,336.67 540.8,340C541.03,343.33 541.33,346.54 541.5,350C541.68,353.74 541.72,357.78 541.83,361.67C541.94,365.56 542.06,369.44 542.17,373.33C542.28,377.22 542.39,381.11 542.5,385C542.61,388.89 542.72,392.78 542.83,396.67C542.94,400.56 543.06,404.44 543.17,408.33C543.28,412.22 543.22,416.41 543.5,420C543.74,423.09 544.23,425.73 544.6,428.6C544.97,431.47 545.14,434.21 545.7,437.2C546.33,440.52 546.83,444.74 548.3,447.6C549.56,450.05 551.57,453.33 553.4,453.6C555.03,453.84 557.38,450.52 558.6,450.2C559.18,450.05 559.44,450.07 560,450.3C561.22,450.81 563.41,454.57 565,454.7C566.28,454.81 567.21,452.54 568.7,452.4C570.71,452.22 573.62,454.4 576.1,455.3C578.56,456.2 581.14,457.77 583.5,457.8C585.65,457.83 587.75,455.84 589.7,455.9C591.47,455.96 592.98,457.96 594.7,457.8C596.7,457.61 598.44,454.41 600.9,454C603.98,453.49 608.54,456.6 612,456.5C615.09,456.41 617.6,454.17 620.7,454C624.15,453.81 628.49,455.19 631.8,455.9C634.53,456.48 636.72,457.18 639.2,457.8C641.69,458.42 644.06,459.54 646.7,459.6C649.63,459.66 653.42,458.99 656,457.8C658.22,456.77 659.73,453.36 661.5,453.4C663.22,453.44 664.62,456.77 666.5,457.8C668.36,458.82 670.65,459.7 672.7,459.6C674.78,459.49 676.95,457.95 678.9,457.1C680.69,456.32 682.18,454.68 684,454.7C686.13,454.72 688.25,457.33 690.9,458.1C694.09,459.03 698.98,460.5 702,459.3C704.95,458.13 706.65,451.35 708.9,451.2C710.77,451.07 712.27,454.66 714.4,456.1C716.79,457.71 719.77,459.17 722.7,460.2C725.72,461.26 730.21,463.15 732.3,462.3C733.8,461.69 734.25,459.76 735.1,458.1C736.17,456.01 736.79,450.71 737.9,450.6C738.89,450.5 739.6,454.94 741.3,456.1C743.16,457.37 746.58,458.17 748.9,457.5C751.45,456.77 753.46,451.79 755.8,451.2C757.64,450.73 759.63,451.44 761.4,452.6C763.88,454.23 766.19,461.38 768.3,461.6C769.76,461.75 771.33,459.69 772.4,458.1C773.74,456.12 774.17,452.83 775.05,450.2C775.93,447.57 776.69,442.34 777.7,442.3C778.79,442.26 780.05,448.73 781.4,451.2C782.46,453.14 783.6,456.14 784.8,456.1C786.33,456.04 788.16,447.77 789.7,447.8C791.15,447.83 792.23,453.14 793.8,455.4C795.26,457.5 797.08,459.6 798.7,461C799.94,462.08 800.93,462.93 802.4,463.4C804.14,463.96 806.77,464.17 808.6,463.7C810.27,463.27 811.42,461.11 813,461C814.7,460.88 816.57,463.03 818.5,463.4C820.46,463.78 822.66,462.9 824.7,463.2C826.8,463.51 828.82,465.17 830.9,465.3C832.95,465.42 835.31,463.88 837.1,464C838.51,464.09 839.2,465.03 840.8,465.3C843.51,465.76 848.33,465.28 852.09,465.27C855.86,465.26 859.62,465.25 863.39,465.24C867.15,465.23 870.92,465.22 874.68,465.21C878.45,465.2 882.21,465.19 885.97,465.18C889.74,465.16 893.5,465.15 897.27,465.14C901.03,465.13 904.8,465.12 908.56,465.11C912.33,465.1 916.09,465.09 919.86,465.08C923.62,465.07 927.39,465.06 931.15,465.05C934.91,465.04 938.68,465.03 942.44,465.02C946.21,465.01 949.97,465 953.74,464.99C957.5,464.98 961.27,464.97 965.03,464.96C968.8,464.95 972.56,464.94 976.33,464.93C980.09,464.91 983.85,464.9 987.62,464.89C991.38,464.88 995.15,464.87 998.91,464.86C1002.68,464.85 1006.44,464.84 1010.21,464.83C1013.97,464.82 1019.46,466.48 1021.5,464.8C1023.2,463.4 1022.65,459.62 1023,457.1C1023.33,454.71 1023.4,452.4 1023.6,450.05C1023.8,447.7 1023.84,443.02 1024.2,443C1024.58,442.98 1025.31,448.39 1025.9,451C1026.47,453.52 1026.33,456.54 1027.7,458.4C1029.04,460.21 1031.73,461.22 1033.9,462.1C1035.99,462.95 1038.27,463.13 1040.45,463.65C1042.63,464.17 1044.82,464.68 1047,465.2"/>
<path stroke="#eb2519" d="M97.5,540.5C101.41,540.49 105.31,540.49 109.22,540.48C113.12,540.48 117.03,540.47 120.93,540.47C124.84,540.46 128.74,540.46 132.65,540.45C136.56,540.44 140.46,540.44 144.37,540.43C148.27,540.43 152.18,540.42 156.08,540.42C159.99,540.41 165.73,541.3 167.8,540.4C168.75,539.99 168.64,538.97 169.5,538.6C170.89,538 174.58,537.99 176,538.6C176.9,538.99 176.83,540.08 177.8,540.5C179.67,541.3 185.22,540.97 187.5,540.5C188.82,540.23 189.36,539.59 190.5,539.2C191.94,538.7 193.72,538.17 195.5,537.9C197.49,537.6 199.9,537.97 201.9,537.6C203.75,537.26 205.13,536.43 207.1,535.9C209.59,535.23 213.32,534.26 215.7,534.1C217.37,533.99 218.4,534.22 220,534.4C222.03,534.63 224.48,535.8 226.9,535.5C229.79,535.15 233.12,531.7 236.1,531.6C238.84,531.51 241.83,534.54 244.1,534.4C245.87,534.29 247.58,533.54 248.7,532.1C250.32,530.03 250.15,521.72 251,521.7C251.9,521.68 251.84,531.87 254,533.2C255.73,534.26 258.97,532.11 261.4,531.6C263.74,531.11 266.01,530.12 268.3,530.2C270.61,530.28 273.01,531.49 275.2,532.1C277.19,532.65 278.94,533.59 280.9,533.7C282.95,533.81 285.13,533 287.25,532.65C289.37,532.3 291.31,531.8 293.6,531.6C296.24,531.37 299.33,531.53 302.2,531.5C305.07,531.47 307.87,532.02 310.8,531.4C314.15,530.69 318.23,529.19 321.1,527C323.96,524.82 325.83,521.17 328,518.3C330.05,515.58 331.65,512.18 333.8,510.2C335.56,508.59 337.9,508.53 339.5,506.8C341.49,504.65 343.14,500.5 344.1,497.6C344.89,495.22 344.9,493.07 345.3,490.8C345.7,488.53 345.82,485.76 346.5,484C346.99,482.74 347.6,481.03 348.4,481C349.58,480.96 351.82,485.09 353,487.2C354.05,489.09 354.53,491.03 355.3,492.95C356.07,494.87 356.53,496.85 357.6,498.7C358.77,500.72 360.96,502.34 362.2,504.5C363.49,506.74 364.13,509.47 365.1,511.95C366.07,514.43 366.5,517.11 368,519.4C369.65,521.93 372.19,524.32 374.9,526.3C377.85,528.45 382.26,531.6 385.2,531.6C387.41,531.6 389.03,530.04 391,528.6C393.6,526.7 396.22,522.32 399,520.6C401.23,519.22 403.78,519.73 405.9,518.3C408.46,516.57 410.6,510.19 412.8,510.2C414.82,510.21 417.12,514.72 418.6,517.1C419.91,519.22 420.5,521.47 421.45,523.65C422.4,525.83 422.58,529.07 424.3,530.2C426.13,531.4 430.08,530.2 432.4,530.2C434.15,530.2 435.34,529.9 437,530.2C439.1,530.58 441.42,532.66 443.9,532.8C446.7,532.96 449.79,531.32 453,530.5C456.61,529.57 461.36,528.25 464.5,527.5C466.66,526.98 468.27,526.9 470,526.3C471.67,525.72 473.04,523.92 474.7,524C476.69,524.09 478.9,526.98 481.1,527.9C483.15,528.76 485.19,529.55 487.4,529.5C489.89,529.44 492.71,526.87 495.3,527.1C497.98,527.33 501.42,531.02 503.2,531.1C504.08,531.14 504.41,530.74 505.2,530.3C506.55,529.54 508.36,526.95 510.3,526.5C512.34,526.03 515.12,528.15 517.2,527.8C519.12,527.47 520.75,526.28 522.4,524.8C524.54,522.88 527.35,519.7 528.4,516.6C529.47,513.41 528.53,509.44 528.6,505.87C528.67,502.29 528.73,498.71 528.8,495.13C528.87,491.56 528.93,487.98 529,484.4C529.07,480.82 529.13,477.24 529.2,473.67C529.27,470.09 529.33,466.51 529.4,462.93C529.47,459.36 529.53,455.78 529.6,452.2C529.67,448.62 529.73,445.04 529.8,441.47C529.87,437.89 529.93,434.31 530,430.73C530.07,427.16 530.16,423.59 530.2,420C530.24,416.38 530.24,412.73 530.25,409.09C530.27,405.45 530.29,401.82 530.31,398.18C530.33,394.55 530.35,390.91 530.36,387.27C530.38,383.64 530.4,380 530.42,376.36C530.44,372.73 530.45,369.09 530.47,365.45C530.49,361.82 530.51,358.18 530.53,354.55C530.55,350.91 530.56,347.27 530.58,343.64C530.6,340 530.62,336.36 530.64,332.73C530.65,329.09 530.67,325.45 530.69,321.82C530.71,318.18 530.73,314.55 530.75,310.91C530.76,307.27 530.79,303.65 530.8,300C530.81,296.31 530.82,292.59 530.83,288.89C530.84,285.19 530.86,281.48 530.87,277.78C530.88,274.07 530.89,270.37 530.9,266.67C530.91,262.96 530.92,259.26 530.93,255.56C530.94,251.85 530.96,248.15 530.97,244.44C530.98,240.74 530.99,237.04 531,233.33C531.01,229.63 531.02,225.93 531.03,222.22C531.04,218.52 531.06,214.81 531.07,211.11C531.08,207.41 531.07,203.75 531.1,200C531.13,196.16 531.18,192.22 531.23,188.33C531.27,184.44 531.31,180.56 531.35,176.67C531.39,172.78 531.43,168.89 531.48,165C531.52,161.11 531.56,157.22 531.6,153.33C531.64,149.44 531.68,145.56 531.73,141.67C531.77,137.78 531.81,133.89 531.85,130C531.89,126.11 531.93,122.22 531.98,118.33C532.02,114.44 532.06,110.56 532.1,106.67C532.14,102.78 532.18,98.89 532.23,95C532.27,91.11 532.31,87.22 532.35,83.33C532.39,79.44 532.43,75.56 532.48,71.67C532.52,67.78 532.57,63.74 532.6,60C532.63,56.54 532.64,53.33 532.67,50C532.69,46.67 532.71,43.33 532.73,40C532.76,36.67 532.78,33.33 532.8,30C532.82,26.67 532.84,23.33 532.87,20C532.89,16.67 532.91,13.33 532.93,10C532.96,6.67 532.98,3.42 533,0C533.02,-3.61 533.02,-7.41 533.03,-11.11C533.04,-14.81 533.06,-18.52 533.07,-22.22C533.08,-25.93 533.09,-29.63 533.1,-33.33C533.11,-37.04 533.12,-40.74 533.13,-44.44C533.14,-48.15 533.16,-51.85 533.17,-55.56C533.18,-59.26 533.19,-62.96 533.2,-66.67C533.21,-70.37 533.22,-74.07 533.23,-77.78C533.24,-81.48 533.26,-85.19 533.27,-88.89C533.28,-92.59 532.44,-99.15 533.3,-100C533.56,-100.26 534.04,-100.26 534.3,-100C535.17,-99.13 534.31,-92.38 534.31,-88.57C534.32,-84.76 534.32,-80.95 534.33,-77.14C534.33,-73.33 534.34,-69.52 534.34,-65.71C534.35,-61.9 534.35,-58.1 534.36,-54.29C534.36,-50.48 534.37,-46.67 534.37,-42.86C534.38,-39.05 534.38,-35.24 534.39,-31.43C534.39,-27.62 534.38,-23.82 534.4,-20C534.42,-16.17 534.47,-12.33 534.5,-8.5C534.53,-4.67 534.55,-0.82 534.6,3C534.65,6.81 534.75,10.6 534.82,14.4C534.89,18.2 534.97,22 535.04,25.8C535.11,29.6 535.19,33.4 535.26,37.2C535.33,41 535.41,44.8 535.48,48.6C535.55,52.4 535.64,56.18 535.7,60C535.76,63.87 535.78,67.78 535.82,71.67C535.86,75.56 535.89,79.44 535.93,83.33C535.97,87.22 536.01,91.11 536.05,95C536.09,98.89 536.13,102.78 536.17,106.67C536.21,110.56 536.24,114.44 536.28,118.33C536.32,122.22 536.36,126.11 536.4,130C536.44,133.89 536.48,137.78 536.52,141.67C536.56,145.56 536.59,149.44 536.63,153.33C536.67,157.22 536.71,161.11 536.75,165C536.79,168.89 536.83,172.78 536.87,176.67C536.91,180.56 536.94,184.44 536.98,188.33C537.02,192.22 537.06,196.16 537.1,200C537.14,203.75 537.19,207.41 537.23,211.11C537.28,214.81 537.32,218.52 537.37,222.22C537.41,225.93 537.46,229.63 537.5,233.33C537.54,237.04 537.59,240.74 537.63,244.44C537.68,248.15 537.72,251.85 537.77,255.56C537.81,259.26 537.86,262.96 537.9,266.67C537.94,270.37 537.99,274.07 538.03,277.78C538.08,281.48 538.12,285.19 538.17,288.89C538.21,292.59 538.26,296.31 538.3,300C538.34,303.65 538.36,307.27 538.39,310.91C538.42,314.55 538.45,318.18 538.48,321.82C538.51,325.45 538.54,329.09 538.57,332.73C538.6,336.36 538.63,340 538.66,343.64C538.69,347.27 538.72,350.91 538.75,354.55C538.78,358.18 538.82,361.82 538.85,365.45C538.88,369.09 538.91,372.73 538.94,376.36C538.97,380 539,383.64 539.03,387.27C539.06,390.91 539.09,394.55 539.12,398.18C539.15,401.82 539.18,405.45 539.21,409.09C539.24,412.73 539.24,416.41 539.3,420C539.36,423.49 539.46,426.89 539.54,430.34C539.62,433.79 539.7,437.23 539.78,440.68C539.86,444.13 539.94,447.57 540.02,451.02C540.1,454.47 540.18,457.91 540.26,461.36C540.34,464.81 540.37,468.16 540.5,471.7C540.64,475.43 540.88,479.37 541.07,483.2C541.26,487.03 541.44,490.87 541.63,494.7C541.82,498.53 541.84,502.86 542.2,506.2C542.48,508.8 542.97,510.8 543.35,513.1C543.73,515.4 543.82,517.8 544.5,520C545.17,522.19 546.08,524.55 547.4,526.3C548.65,527.95 550.28,529.75 552.1,530.3C553.96,530.86 556.51,530.27 558.5,529.5C560.59,528.69 562.52,525.2 564.3,525.4C566.13,525.61 567.5,530.66 569.3,531C570.84,531.29 572.56,528.34 574.2,528.5C576.06,528.68 577.58,532.01 579.8,532.9C582.26,533.88 585.87,534.01 588.5,533.7C590.77,533.43 592.63,531.6 594.7,531.6C596.77,531.6 598.91,533.98 600.9,533.7C603.02,533.41 604.86,529.52 607,529.5C609.37,529.48 612,533.74 614.5,534.5C616.57,535.13 618.75,534.98 620.7,534.5C622.65,534.02 624.17,531.66 626.2,531.6C628.62,531.53 631.74,535.07 634.3,535.3C636.47,535.49 638.12,533.86 640.5,533.7C643.65,533.49 648.78,535.39 651.6,535C653.44,534.75 654.62,533.11 656,533.2C657.31,533.28 658.5,535.63 659.7,535.3C661.65,534.77 663.69,525.61 665.3,525.6C666.51,525.59 667.48,529.17 668.5,531C669.52,532.84 669.87,535.67 671.4,536.6C672.91,537.52 675.86,537.03 677.6,536.6C679.01,536.25 679.78,535.46 681.2,534.7C683.27,533.6 686.44,530.42 688.8,530.6C691.06,530.78 692.97,534.33 695.1,535.4C696.91,536.31 698.6,536.78 700.6,537C702.91,537.25 706.46,537.65 708.2,536.5C709.75,535.48 710.03,532.9 710.95,531.1C711.87,529.3 712.77,525.67 713.7,525.7C714.84,525.74 715.24,532.03 717.2,534C719.15,535.96 722.8,536.97 725.4,537.5C727.58,537.95 729.57,537.5 731.65,537.5C733.73,537.5 736.41,538.47 737.9,537.5C739.46,536.48 739.73,533.33 740.65,531.25C741.57,529.17 742.45,524.98 743.4,525C744.53,525.02 744.86,532.37 746.9,534C748.71,535.44 752.2,535.92 754.4,535.1C756.88,534.18 758.8,527.7 760.7,527.8C762.47,527.89 763.5,532.92 765.5,534.7C767.43,536.42 770.23,538.41 772.4,538.4C774.34,538.39 776.31,536.76 777.9,535.4C779.57,533.97 780.68,529.94 782.1,529.9C783.45,529.86 784.9,534.77 786.2,534.7C787.54,534.63 788.73,531 790,529.15C791.27,527.3 792.68,523.44 793.8,523.6C795.28,523.81 795.9,532.11 797.5,534.7C798.57,536.43 799.66,537.58 801.2,538.4C802.89,539.3 805.09,539.52 807.4,539.6C810.31,539.7 814.58,538.29 817.3,538.4C819.23,538.48 820.3,539.27 822.2,539.4C824.8,539.57 828.4,538.97 831.5,538.75C834.6,538.53 838.43,537.78 840.8,538.1C842.34,538.31 842.89,539.13 844.5,539.4C847.31,539.88 852.42,539.38 856.39,539.37C860.35,539.36 864.31,539.36 868.27,539.35C872.24,539.34 876.2,539.33 880.16,539.32C884.12,539.31 888.08,539.3 892.05,539.29C896.01,539.28 899.97,539.28 903.93,539.27C907.9,539.26 911.86,539.25 915.82,539.24C919.78,539.23 923.74,539.22 927.71,539.21C931.67,539.2 935.63,539.2 939.59,539.19C943.56,539.18 947.52,539.17 951.48,539.16C955.44,539.15 959.4,539.14 963.37,539.13C967.33,539.12 971.29,539.12 975.25,539.11C979.22,539.1 983.18,539.09 987.14,539.08C991.1,539.07 995.06,539.06 999.03,539.05C1002.99,539.04 1006.95,539.04 1010.91,539.03C1014.88,539.02 1020.7,540.85 1022.8,539C1024.67,537.35 1023.62,532.56 1024,529.7C1024.33,527.24 1024.63,525.13 1024.95,522.85C1025.27,520.57 1025.54,516 1025.9,516C1026.36,516 1026.75,524.04 1027.5,527.2C1028.07,529.6 1028.24,531.78 1029.6,533.4C1031.08,535.16 1033.81,536.11 1036.4,537.1C1039.47,538.27 1043.47,538.77 1047,539.6"/>
<path stroke="#5ec4dc" d="M97.5,618.2C101.39,618.2 105.29,618.2 109.18,618.2C113.08,618.2 116.97,618.2 120.87,618.2C124.76,618.2 128.66,618.2 132.55,618.2C136.44,618.2 140.34,618.2 144.23,618.2C148.13,618.2 152.02,618.2 155.92,618.2C159.81,618.2 165.45,619.12 167.6,618.2C168.65,617.75 168.71,616.54 169.5,616.2C170.33,615.85 171.66,615.85 172.5,616.2C173.32,616.54 173.5,617.79 174.5,618.2C176.12,618.87 179.5,618.2 182,618.2C184.5,618.2 188,618.72 189.5,618.2C190.26,617.93 190.26,617.26 191,617C192.36,616.52 195.81,617.74 197.5,617C198.96,616.36 199.57,614.49 200.8,613.4C202.06,612.28 203.48,610.96 205,610.4C206.46,609.86 208.12,609.57 209.7,610C211.68,610.54 213.92,614.45 215.7,614.3C217.32,614.17 218.36,610.5 220,610C221.5,609.55 223.4,610.76 225,611C226.46,611.21 227.65,611.07 229.2,611.4C231.24,611.83 233.91,614.12 236.1,613.7C238.54,613.23 241.04,607.65 243,607.9C244.84,608.14 245.71,613.77 247.6,614.4C249.25,614.95 251.43,613.17 253.35,612.55C255.27,611.93 256.94,610.83 259.1,610.7C261.79,610.54 265.34,612.57 268.3,612.5C271.08,612.44 273.67,611.2 276.35,610.55C279.03,609.9 282.01,609.58 284.4,608.6C286.55,607.72 288.23,606.3 290.15,605.15C292.07,604 294.04,601.7 295.9,601.7C297.66,601.7 299.33,603.77 301.05,604.8C302.77,605.83 304.36,607.82 306.2,607.9C308.23,607.99 310.57,605.77 312.75,604.7C314.93,603.63 317.95,603.29 319.3,601.5C320.75,599.58 320.3,596 320.8,593.25C321.3,590.5 321.97,587.99 322.3,585C322.68,581.5 322.58,577.33 322.73,573.5C322.87,569.67 323.01,565.83 323.15,562C323.29,558.17 323.43,554.33 323.57,550.5C323.72,546.67 323.88,542.83 324,539C324.12,535.17 324.21,531.33 324.32,527.5C324.42,523.67 324.53,519.83 324.63,516C324.74,512.17 324.84,508.33 324.95,504.5C325.06,500.67 325.16,496.83 325.27,493C325.37,489.17 325.48,485.33 325.58,481.5C325.69,477.67 325.83,473.81 325.9,470C325.97,466.23 325.97,462.5 326,458.75C326.03,455 326.07,451.25 326.1,447.5C326.13,443.75 326.17,440 326.2,436.25C326.23,432.5 326.27,428.75 326.3,425C326.33,421.25 326.37,417.5 326.4,413.75C326.43,410 326.47,406.25 326.5,402.5C326.53,398.75 326.57,395 326.6,391.25C326.63,387.5 326.66,383.75 326.7,380C326.74,376.25 326.79,372.5 326.84,368.75C326.88,365 326.93,361.25 326.98,357.5C327.02,353.75 327.07,350 327.11,346.25C327.16,342.5 327.2,338.75 327.25,335C327.3,331.25 327.34,327.5 327.39,323.75C327.43,320 327.48,316.25 327.52,312.5C327.57,308.75 327.62,305 327.66,301.25C327.71,297.5 327.76,293.76 327.8,290C327.84,286.21 327.87,282.38 327.91,278.57C327.95,274.76 327.98,270.95 328.02,267.14C328.06,263.33 328.09,259.52 328.13,255.71C328.17,251.9 328.2,248.1 328.24,244.29C328.27,240.48 328.31,236.67 328.35,232.86C328.38,229.05 328.42,225.24 328.46,221.43C328.49,217.62 328.53,213.81 328.57,210C328.6,206.19 328.64,202.38 328.68,198.57C328.71,194.76 328.75,190.95 328.79,187.14C328.82,183.33 328.86,179.52 328.9,175.71C328.93,171.9 328.97,168.1 329,164.29C329.04,160.48 329.08,156.67 329.11,152.86C329.15,149.05 329.19,145.24 329.22,141.43C329.26,137.62 329.3,133.81 329.33,130C329.37,126.19 329.41,122.38 329.44,118.57C329.48,114.76 329.52,110.95 329.55,107.14C329.59,103.33 329.63,99.52 329.66,95.71C329.7,91.9 329.73,88.1 329.77,84.29C329.81,80.48 329.84,76.67 329.88,72.86C329.92,69.05 329.95,65.24 329.99,61.43C330.03,57.62 330.06,53.68 330.1,50C330.13,46.56 330.17,43.33 330.2,40C330.23,36.67 330.27,33.33 330.3,30C330.33,26.67 330.37,23.33 330.4,20C330.43,16.67 330.47,13.33 330.5,10C330.53,6.67 330.57,3.42 330.6,0C330.63,-3.61 330.67,-7.41 330.7,-11.11C330.73,-14.81 330.77,-18.52 330.8,-22.22C330.83,-25.93 330.87,-29.63 330.9,-33.33C330.93,-37.04 330.97,-40.74 331,-44.44C331.03,-48.15 331.07,-51.85 331.1,-55.56C331.13,-59.26 331.17,-62.96 331.2,-66.67C331.23,-70.37 331.27,-74.07 331.3,-77.78C331.33,-81.48 331.37,-85.19 331.4,-88.89C331.43,-92.59 330.3,-98.81 331.5,-100C332.07,-100.57 333.43,-100.57 334,-100C335.2,-98.81 334.07,-92.59 334.1,-88.89C334.13,-85.19 334.17,-81.48 334.2,-77.78C334.23,-74.07 334.27,-70.37 334.3,-66.67C334.33,-62.96 334.37,-59.26 334.4,-55.56C334.43,-51.85 334.47,-48.15 334.5,-44.44C334.53,-40.74 334.57,-37.04 334.6,-33.33C334.63,-29.63 334.67,-25.93 334.7,-22.22C334.73,-18.52 334.77,-14.81 334.8,-11.11C334.83,-7.41 334.87,-3.61 334.9,0C334.93,3.42 334.97,6.67 335,10C335.03,13.33 335.07,16.67 335.1,20C335.13,23.33 335.17,26.67 335.2,30C335.23,33.33 335.27,36.67 335.3,40C335.33,43.33 335.37,46.56 335.4,50C335.44,53.68 335.47,57.62 335.51,61.43C335.55,65.24 335.58,69.05 335.62,72.86C335.66,76.67 335.69,80.48 335.73,84.29C335.77,88.1 335.8,91.9 335.84,95.71C335.87,99.52 335.91,103.33 335.95,107.14C335.98,110.95 336.02,114.76 336.06,118.57C336.09,122.38 336.13,126.19 336.17,130C336.2,133.81 336.24,137.62 336.28,141.43C336.31,145.24 336.35,149.05 336.39,152.86C336.42,156.67 336.46,160.48 336.5,164.29C336.53,168.1 336.57,171.9 336.6,175.71C336.64,179.52 336.68,183.33 336.71,187.14C336.75,190.95 336.79,194.76 336.82,198.57C336.86,202.38 336.9,206.19 336.93,210C336.97,213.81 337.01,217.62 337.04,221.43C337.08,225.24 337.12,229.05 337.15,232.86C337.19,236.67 337.23,240.48 337.26,244.29C337.3,248.1 337.33,251.9 337.37,255.71C337.41,259.52 337.44,263.33 337.48,267.14C337.52,270.95 337.55,274.76 337.59,278.57C337.63,282.38 337.66,286.21 337.7,290C337.73,293.76 337.77,297.5 337.8,301.25C337.83,305 337.87,308.75 337.9,312.5C337.93,316.25 337.97,320 338,323.75C338.03,327.5 338.07,331.25 338.1,335C338.13,338.75 338.17,342.5 338.2,346.25C338.23,350 338.27,353.75 338.3,357.5C338.33,361.25 338.37,365 338.4,368.75C338.43,372.5 338.46,376.25 338.5,380C338.54,383.75 338.58,387.5 338.62,391.25C338.67,395 338.71,398.75 338.75,402.5C338.79,406.25 338.83,410 338.88,413.75C338.92,417.5 338.96,421.25 339,425C339.04,428.75 339.08,432.5 339.12,436.25C339.17,440 339.21,443.75 339.25,447.5C339.29,451.25 339.33,455 339.38,458.75C339.42,462.5 339.38,466.23 339.5,470C339.62,473.81 339.88,477.67 340.07,481.5C340.27,485.33 340.46,489.17 340.65,493C340.84,496.83 341.03,500.67 341.23,504.5C341.42,508.33 341.55,512.27 341.8,516C342.04,519.54 342.38,522.9 342.68,526.35C342.97,529.8 343.26,533.25 343.55,536.7C343.84,540.15 344.13,543.6 344.43,547.05C344.72,550.5 344.9,553.93 345.3,557.4C345.71,560.94 346.34,564.53 346.87,568.1C347.39,571.67 347.91,575.23 348.43,578.8C348.96,582.37 348.96,586.76 350,589.5C350.74,591.45 351.61,593.66 353,594.1C354.49,594.57 357.05,591.28 358.8,591.8C361,592.46 362.21,598.03 364.5,599.9C366.5,601.53 368.99,602.83 371.4,602.9C373.98,602.97 376.87,600.53 379.5,599.9C381.86,599.34 384.1,599.37 386.4,599.1C388.7,598.83 391.07,597.85 393.3,598.3C395.68,598.78 397.72,600.88 400.2,602.2C403.03,603.71 406.29,606.57 409.4,606.8C412.42,607.02 415.74,603.89 418.6,603.8C421.05,603.73 423.21,606.02 425.5,605.6C428.18,605.11 430.81,599.95 433.5,599.9C436.17,599.85 438.68,604.45 441.6,605.2C444.43,605.93 447.88,604.77 450.7,604.5C453.16,604.26 455.3,603.97 457.6,603.7C459.9,603.43 462.34,603.32 464.5,602.9C466.45,602.52 468.17,601.92 470,601.4C471.84,600.88 473.68,599.7 475.5,599.8C477.38,599.9 479.08,601.64 481.1,602.1C483.29,602.6 486.38,603.48 488.2,602.5C490.1,601.48 491.1,598.05 492.1,595.8C493.02,593.72 493.43,591.6 494.1,589.5C494.77,587.4 495.53,585.44 496.1,583.2C496.73,580.73 497.13,577.93 497.65,575.3C498.17,572.67 498.76,570.16 499.2,567.4C499.69,564.39 500,561.07 500.4,557.9C500.8,554.73 501.08,551.3 501.6,548.4C502.05,545.9 502.62,541.51 503.2,541.5C503.78,541.49 504.59,545.77 505.1,548.4C505.76,551.8 506.03,556.3 506.5,560.25C506.97,564.2 507.38,568.29 507.9,572.1C508.39,575.66 508.97,578.97 509.5,582.4C510.03,585.83 510.11,589.56 511.1,592.7C512.01,595.58 513.45,600.25 515,600.6C516.19,600.86 517.91,598.97 519,597.4C520.52,595.21 521.45,591.17 522.1,587.9C522.76,584.59 522.63,581.07 522.9,577.65C523.17,574.23 523.5,570.94 523.7,567.4C523.91,563.6 523.97,559.5 524.1,555.55C524.23,551.6 524.37,547.65 524.5,543.7C524.63,539.75 524.77,535.8 524.9,531.85C525.03,527.9 525.22,523.89 525.3,520C525.37,516.24 525.34,512.59 525.37,508.89C525.39,505.19 525.41,501.48 525.43,497.78C525.46,494.07 525.48,490.37 525.5,486.67C525.52,482.96 525.54,479.26 525.57,475.56C525.59,471.85 525.61,468.15 525.63,464.44C525.66,460.74 525.68,457.04 525.7,453.33C525.72,449.63 525.74,445.93 525.77,442.22C525.79,438.52 525.81,434.81 525.83,431.11C525.86,427.41 525.86,423.69 525.9,420C525.94,416.35 526,412.73 526.05,409.09C526.11,405.45 526.16,401.82 526.21,398.18C526.26,394.55 526.31,390.91 526.36,387.27C526.42,383.64 526.47,380 526.52,376.36C526.57,372.73 526.62,369.09 526.67,365.45C526.72,361.82 526.78,358.18 526.83,354.55C526.88,350.91 526.93,347.27 526.98,343.64C527.03,340 527.08,336.36 527.14,332.73C527.19,329.09 527.24,325.45 527.29,321.82C527.34,318.18 527.39,314.55 527.45,310.91C527.5,307.27 527.56,303.65 527.6,300C527.64,296.31 527.67,292.59 527.7,288.89C527.73,285.19 527.77,281.48 527.8,277.78C527.83,274.07 527.87,270.37 527.9,266.67C527.93,262.96 527.97,259.26 528,255.56C528.03,251.85 528.07,248.15 528.1,244.44C528.13,240.74 528.17,237.04 528.2,233.33C528.23,229.63 528.27,225.93 528.3,222.22C528.33,218.52 528.37,214.81 528.4,211.11C528.43,207.41 528.47,203.75 528.5,200C528.53,196.16 528.56,192.22 528.58,188.33C528.61,184.44 528.64,180.56 528.67,176.67C528.69,172.78 528.72,168.89 528.75,165C528.78,161.11 528.81,157.22 528.83,153.33C528.86,149.44 528.89,145.56 528.92,141.67C528.94,137.78 528.97,133.89 529,130C529.03,126.11 529.06,122.22 529.08,118.33C529.11,114.44 529.14,110.56 529.17,106.67C529.19,102.78 529.22,98.89 529.25,95C529.28,91.11 529.31,87.22 529.33,83.33C529.36,79.44 529.39,75.56 529.42,71.67C529.44,67.78 529.37,63.68 529.5,60C529.62,56.68 529.9,53.69 530.1,50.53C530.3,47.38 530.5,44.22 530.7,41.07C530.9,37.91 531.13,31.6 531.3,31.6C531.47,31.6 531.59,37.91 531.73,41.07C531.88,44.22 532.02,47.38 532.17,50.53C532.31,53.69 532.51,56.68 532.6,60C532.69,63.69 532.64,67.78 532.67,71.67C532.69,75.56 532.71,79.44 532.73,83.33C532.76,87.22 532.78,91.11 532.8,95C532.82,98.89 532.84,102.78 532.87,106.67C532.89,110.56 532.91,114.44 532.93,118.33C532.96,122.22 532.98,126.11 533,130C533.02,133.89 533.04,137.78 533.07,141.67C533.09,145.56 533.11,149.44 533.13,153.33C533.16,157.22 533.18,161.11 533.2,165C533.22,168.89 533.24,172.78 533.27,176.67C533.29,180.56 533.31,184.44 533.33,188.33C533.36,192.22 533.38,196.16 533.4,200C533.42,203.75 533.44,207.41 533.47,211.11C533.49,214.81 533.51,218.52 533.53,222.22C533.56,225.93 533.58,229.63 533.6,233.33C533.62,237.04 533.64,240.74 533.67,244.44C533.69,248.15 533.71,251.85 533.73,255.56C533.76,259.26 533.78,262.96 533.8,266.67C533.82,270.37 533.84,274.07 533.87,277.78C533.89,281.48 533.91,285.19 533.93,288.89C533.96,292.59 533.98,296.31 534,300C534.02,303.65 534.03,307.27 534.05,310.91C534.06,314.55 534.08,318.18 534.09,321.82C534.11,325.45 534.12,329.09 534.14,332.73C534.15,336.36 534.17,340 534.18,343.64C534.2,347.27 534.21,350.91 534.23,354.55C534.24,358.18 534.26,361.82 534.27,365.45C534.29,369.09 534.3,372.73 534.32,376.36C534.33,380 534.35,383.64 534.36,387.27C534.38,390.91 534.39,394.55 534.41,398.18C534.42,401.82 534.44,405.45 534.45,409.09C534.47,412.73 534.46,416.35 534.5,420C534.54,423.69 534.64,427.41 534.71,431.11C534.78,434.81 534.85,438.52 534.92,442.22C534.99,445.93 535.06,449.63 535.13,453.33C535.2,457.04 535.27,460.74 535.34,464.44C535.41,468.15 535.49,471.85 535.56,475.56C535.63,479.26 535.7,482.96 535.77,486.67C535.84,490.37 535.91,494.07 535.98,497.78C536.05,501.48 536.12,505.19 536.19,508.89C536.26,512.59 536.32,516.35 536.4,520C536.47,523.56 536.56,527.02 536.63,530.53C536.71,534.04 536.79,537.56 536.87,541.07C536.94,544.58 536.98,547.99 537.1,551.6C537.23,555.43 537.47,559.5 537.65,563.45C537.83,567.4 537.61,571.44 538.2,575.3C538.78,579.09 539.97,582.73 541.1,586.4C542.24,590.1 543.24,594.64 545,597.4C546.34,599.49 547.98,601.81 549.8,602.1C551.67,602.4 554.31,600.16 556.1,599C557.62,598.02 558.85,595.63 560,595.8C561.23,595.98 561.95,599.26 563.2,600.6C564.37,601.86 565.82,603.5 567.2,603.7C568.46,603.89 569.57,602.29 571.1,602.2C573.18,602.08 576.23,603.44 578.6,604.1C580.77,604.71 582.4,605.72 584.8,606C587.94,606.37 592.69,605.95 595.9,605.3C598.48,604.77 600.29,602.77 602.7,602.9C605.59,603.06 608.83,607.32 612,607.4C615.23,607.48 618.45,603.57 621.9,603.2C625.44,602.82 629.75,605.32 633,605.3C635.56,605.28 637.57,604.37 639.85,603.9C642.13,603.43 644.33,602.08 646.7,602.5C649.66,603.02 653.37,608.58 656,608.2C658.39,607.85 660.27,601.37 662,601.5C663.56,601.62 664.34,605.98 666,607.6C667.58,609.14 669.59,610.93 671.6,611.1C673.74,611.29 676.29,609.59 678.5,608.3C680.91,606.89 683.33,602.57 685.4,602.8C687.47,603.03 688.98,608.36 690.9,609.7C692.26,610.65 693.54,611.15 695.1,611.1C697.13,611.04 699.85,609.26 702,608.3C703.95,607.43 706.16,607.11 707.5,605.6C709.04,603.87 709.22,598.02 710.2,598C711.27,597.98 711.95,604.55 713.7,606.9C715.29,609.04 717.7,610.83 719.9,611.8C721.86,612.66 724.03,612.47 726.1,612.8C728.17,613.13 730.52,614.27 732.3,613.8C733.95,613.36 735.32,611.94 736.5,610.4C737.97,608.49 738.65,602.85 739.9,602.8C741.18,602.75 742.33,609.8 744.1,610.4C745.48,610.87 747.41,608.09 748.9,608.3C750.42,608.52 751.81,612.07 753.1,611.8C754.92,611.42 756.22,602.19 757.9,602.1C759.43,602.02 760.7,607.61 762.7,609.7C764.63,611.72 767.54,614.79 769.6,614.5C771.72,614.2 773.74,610.33 775.2,607.6C776.86,604.49 777.53,596.62 778.6,596.6C779.46,596.58 780.23,601.2 781.05,603.5C781.87,605.8 782.36,608.6 783.5,610.4C784.42,611.86 786,614.04 786.9,613.8C788.13,613.48 788.5,608.07 789.3,605.2C790.1,602.33 790.92,596.6 791.7,596.6C792.42,596.6 793.1,601.43 793.8,603.85C794.5,606.27 794.79,609.03 795.9,611.1C796.92,612.99 798.23,615.13 800,615.9C801.83,616.7 804.53,615.7 806.8,615.6C809.07,615.5 811.4,615.14 813.6,615.3C815.72,615.46 817.51,616.28 819.8,616.5C822.57,616.77 825.98,616.5 829.07,616.5C832.17,616.5 835.26,616.5 838.35,616.5C841.44,616.5 844.53,616.5 847.62,616.5C850.72,616.5 854.13,616.81 856.9,616.5C859.19,616.24 861.03,615.57 863.1,615.1C865.17,614.63 867.23,614.11 869.3,613.7C871.36,613.29 873.43,613 875.5,612.65C877.57,612.3 879.55,612.01 881.7,611.6C884.06,611.14 886.41,610.27 889.1,610C892.23,609.68 895.97,610.07 899.4,610.1C902.83,610.13 906.27,610.17 909.7,610.2C913.13,610.23 917,610.18 920,610.3C922.33,610.4 924.13,610.6 926.2,610.75C928.27,610.9 930.35,610.85 932.4,611.2C934.48,611.56 936.53,612.33 938.6,612.9C940.67,613.47 942.63,614.16 944.8,614.6C947.14,615.07 949.73,615.23 952.2,615.55C954.67,615.87 957.03,616.31 959.6,616.5C962.37,616.71 965.38,616.63 968.27,616.7C971.16,616.77 974.04,616.83 976.93,616.9C979.82,616.97 982.53,617.11 985.6,617.1C989.08,617.09 993.02,616.88 996.73,616.77C1000.44,616.66 1004.16,616.54 1007.87,616.43C1011.58,616.32 1016.67,617.36 1019,616.1C1020.54,615.27 1021.19,613.83 1021.8,612.1C1022.66,609.64 1022.2,605.57 1022.4,602.3C1022.6,599.03 1022.74,592.51 1023,592.5C1023.22,592.49 1023.53,597.4 1023.8,599.85C1024.07,602.3 1023.86,605.07 1024.6,607.2C1025.26,609.09 1026.16,610.89 1027.7,612.1C1029.49,613.5 1032.75,613.96 1035.1,614.6C1037.17,615.17 1039.07,615.43 1041.05,615.85C1043.03,616.27 1045.02,616.68 1047,617.1"/>
</g>
<g font-size="24.6">
<text x="347" y="64">pactamycate</text>
<text x="646" y="264.8">wild-type</text>
<text x="646" y="353.2">Δ<tspan font-style="italic">ptmA</tspan></text>
<text x="646" y="433.4">Δ<tspan font-style="italic">ptmA</tspan> + 3-aminobenzoic acid</text>
<text x="646" y="503.7">Δ<tspan font-style="italic">ptmT</tspan></text>
<text x="646" y="580.3">Δ<tspan font-style="italic">ptmT</tspan> + 3-aminobenzoic acid</text>
</g>
<g transform="translate(0.0,0.0)" stroke="#000" fill="none" stroke-width="4.2" stroke-linecap="round" stroke-linejoin="miter"><path d="M463.6,79.2L480.5,93.6"/><path d="M478.6,82.9L481.9,94.6L469.7,92.0" stroke-miterlimit="10"/></g>
<g transform="translate(10.0,465.2)" stroke="#000" fill="none" stroke-width="4.2" stroke-linecap="round" stroke-linejoin="miter"><path d="M463.6,79.2L480.5,93.6"/><path d="M478.6,82.9L481.9,94.6L469.7,92.0" stroke-miterlimit="10"/></g>
</svg></body></html>
